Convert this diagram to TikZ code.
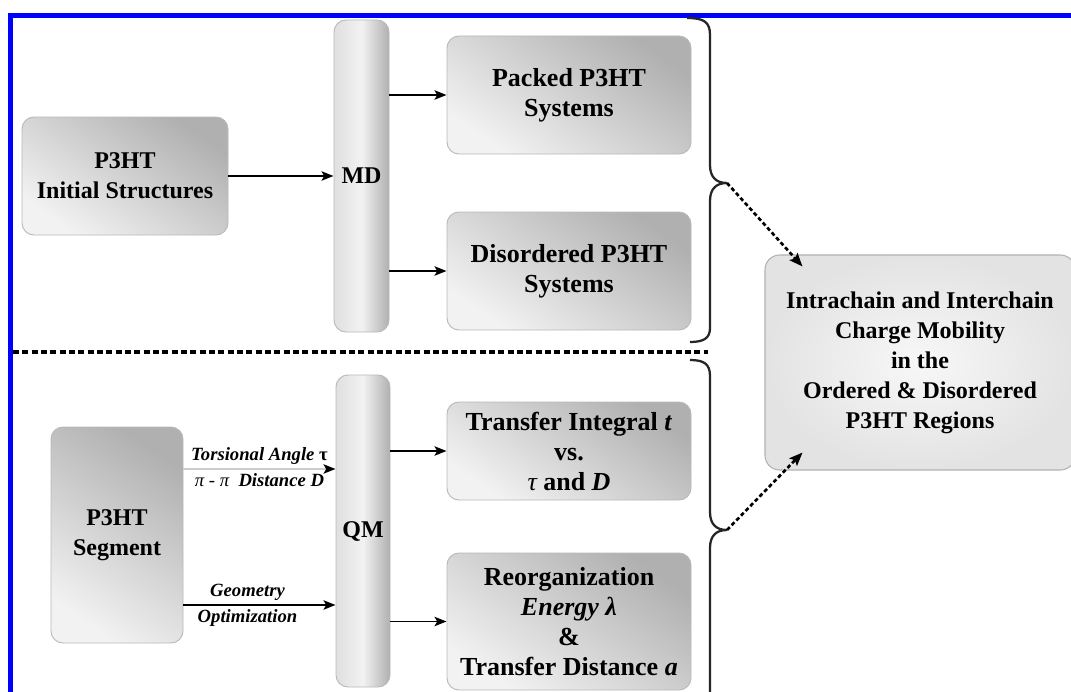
\documentclass[tikz,border=0pt]{standalone}
\usepackage{fontspec}
\setmainfont{Liberation Serif}
\usetikzlibrary{arrows.meta,shadings,calc}
\begin{document}
\begin{tikzpicture}[x=0.75pt,y=-0.75pt,
  gbox/.style={rounded corners=9pt,draw=gray!55,line width=0.7pt,
    top color=gray!62,bottom color=gray!10,shading angle=-35,
    align=center,font=\bfseries\fontsize{18}{22.5}\selectfont,inner sep=0pt},
  rbox/.style={gbox,font=\bfseries\fontsize{19.5}{22.5}\selectfont},
  bar/.style={rounded corners=9pt,draw=gray!55,line width=0.7pt,
    left color=gray!25,right color=gray!62,middle color=gray!10,
    font=\bfseries\fontsize{18}{22.5}\selectfont,inner sep=0pt},
  fbox/.style={rounded corners=11pt,draw=gray!60,line width=0.8pt,
    inner color=gray!6,outer color=gray!22,
    align=center,font=\bfseries\fontsize{18}{22.5}\selectfont,inner sep=0pt},
  arr/.style={line width=1.4pt,-{Stealth[length=9pt,width=7pt,inset=2pt]}},
  darr/.style={line width=2pt,dash pattern=on 3pt off 2pt,-{Stealth[length=10pt,width=8pt,inset=2pt]}},
  brc/.style={line width=1.7pt,draw=gray!30!black},
  lbl/.style={font=\bfseries\itshape\fontsize{14}{16}\selectfont,inner sep=3pt}]
\useasboundingbox (0,0) rectangle (1071,692);
\fill[white] (0,0) rectangle (1071,692);
% blue frame
\draw[blue,line width=3.75pt] (8,15.5) -- (1075,15.5);
\draw[blue,line width=3.75pt] (10.5,13) -- (10.5,695);
% top section
\node[gbox,minimum width=154.5pt,minimum height=88.5pt] (init) at (125,176) {P3HT\\Initial Structures};
\node[bar,minimum width=41.25pt,minimum height=234pt] (md) at (361.5,176) {MD};
\node[rbox,minimum width=183pt,minimum height=88.5pt] (packed) at (569,95) {Packed P3HT\\Systems};
\node[rbox,minimum width=183pt,minimum height=88.5pt] (disord) at (569,271) {Disordered P3HT\\Systems};
\draw[arr] (init.east) -- (md.west |- init.east);
\draw[arr] (md.east |- packed.west) -- (packed.west);
\draw[arr] (md.east |- disord.west) -- (disord.west);
% divider
\draw[line width=2.6pt,dash pattern=on 4.5pt off 2.5pt] (13,352) -- (708,352);
% bottom section
\node[gbox,minimum width=99pt,minimum height=162pt] (seg) at (117,535) {P3HT\\Segment};
\node[bar,minimum width=40.5pt,minimum height=234pt] (qm) at (363,531) {QM};
\node[rbox,minimum width=183pt,minimum height=73.5pt] (trans) at (569,451) {Transfer Integral \textit{t}\\vs.\\{\mdseries\itshape τ} and \textit{D}};
\node[rbox,minimum width=183pt,minimum height=102.75pt] (reorg) at (569,621.5) {Reorganization\\\textit{Energy λ}\\\&\\Transfer Distance \textit{a}};
\draw[arr] (qm.east |- trans.west) -- (trans.west);
\draw[arr] (qm.east |- reorg.west) -- (reorg.west);
\coordinate (y1) at (0,469);
\coordinate (y2) at (0,605);
\draw[line width=1.4pt,draw=gray!40,-{Stealth[length=9pt,width=7pt,inset=2pt,black]}] (seg.east |- y1) -- node[lbl,above] {Torsional Angle {\upshape τ}} node[lbl,below] {{\mdseries π - π}\ \ Distance D} (qm.west |- y1);
\draw[arr] (seg.east |- y2) -- node[lbl,above,xshift=-9pt] {Geometry} node[lbl,below,xshift=-9pt] {Optimization} (qm.west |- y2);
% result
\node[fbox,minimum width=232.5pt,minimum height=161.25pt] (final) at (920,362.5) {Intrachain and Interchain\\Charge Mobility\\in the\\Ordered \& Disordered\\P3HT Regions};
% braces
\coordinate (tip1) at (727,183);
\coordinate (tip2) at (727,530);
\draw[brc] (687,18) .. controls (704,18) and (710,22) .. (710,35) -- (710,165)
  .. controls (710,177) and (716,183) .. (tip1)
  .. controls (716,183) and (710,189) .. (710,201) -- (710,328)
  .. controls (710,338) and (704,342) .. (690,342);
\draw[brc] (690,360) .. controls (704,360) and (710,364) .. (710,376) -- (710,512)
  .. controls (710,524) and (716,530) .. (tip2)
  .. controls (716,530) and (710,536) .. (710,548) -- (710,700);
\coordinate (in1) at ($(final.north west)+(38,12)$);
\coordinate (in2) at ($(final.south west)+(38,-18)$);
\draw[darr] (tip1) -- (in1);
\draw[darr] (tip2) -- (in2);
\end{tikzpicture}
\end{document}
